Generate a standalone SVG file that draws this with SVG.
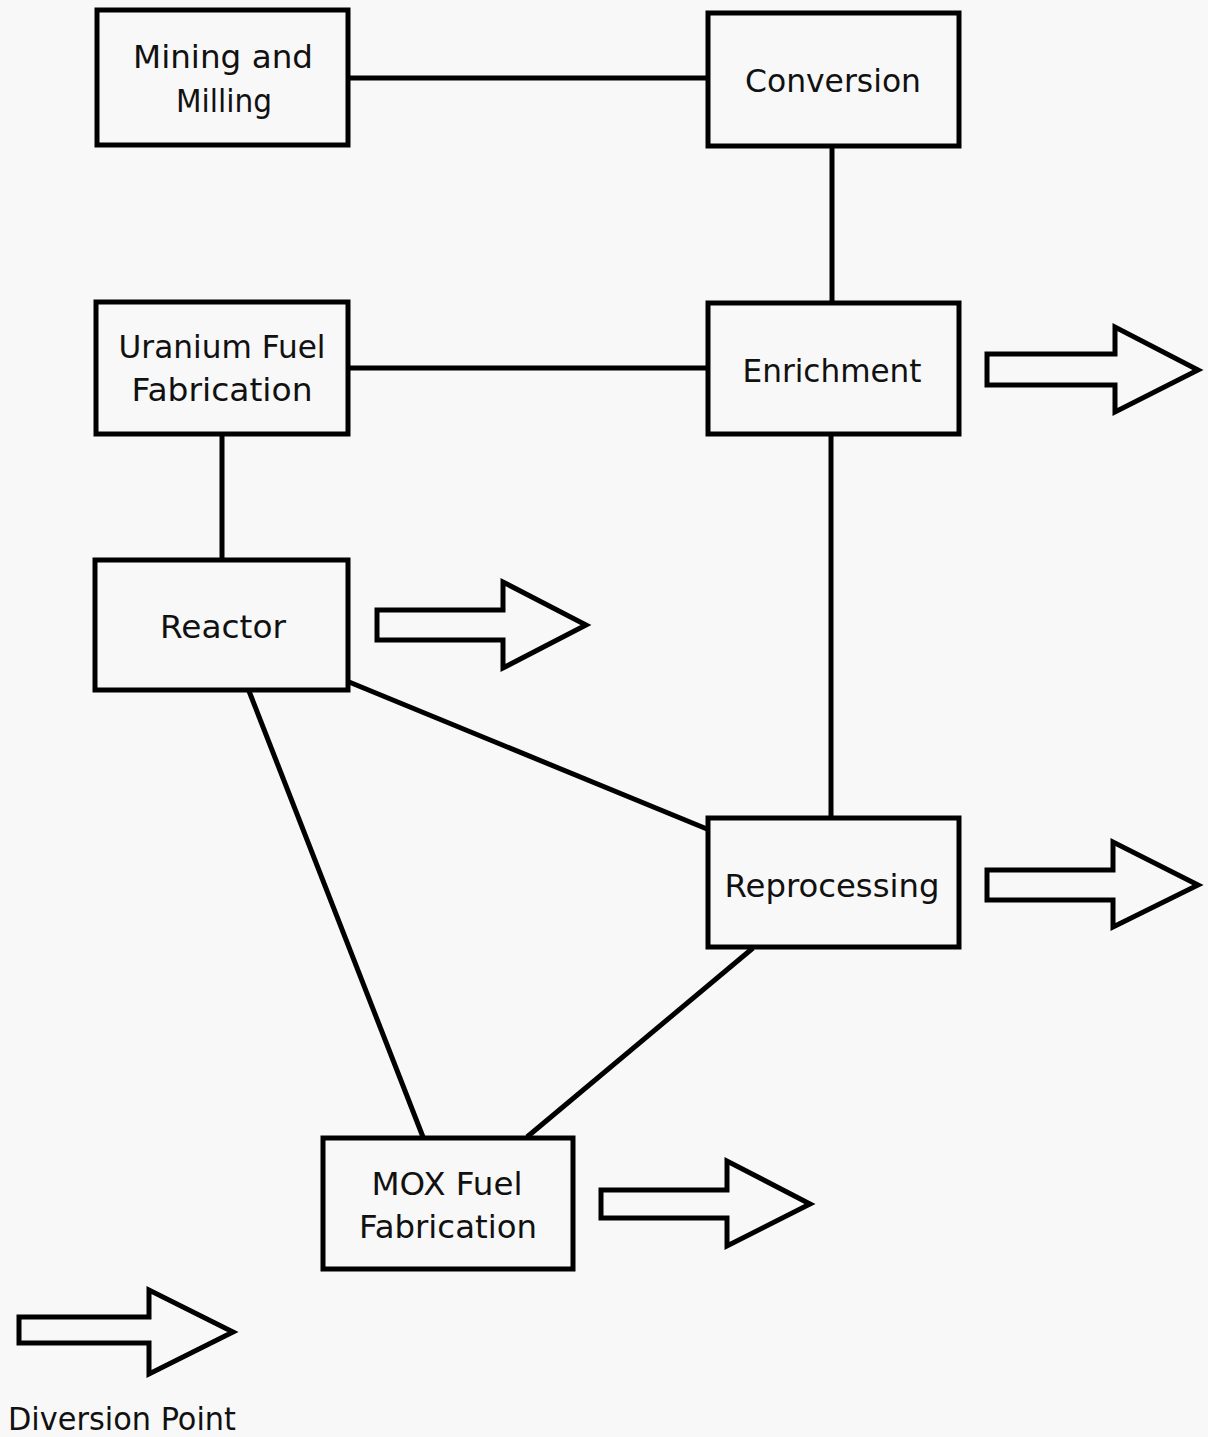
<svg xmlns="http://www.w3.org/2000/svg" width="1208" height="1437" viewBox="0 0 1208 1437">
<style>
.box{fill:none;stroke:#000;stroke-width:5}
.lbl{font-family:"DejaVu Sans","Liberation Sans",sans-serif;font-size:32px;fill:#111;text-anchor:middle}
.arr{fill:none;stroke:#000;stroke-width:5;stroke-linejoin:miter}
.con{stroke:#000;stroke-width:5;fill:none}
</style>
<rect width="1208" height="1437" fill="#f8f8f8"/>
<g id="connectors">
<line class="con" x1="350" y1="78" x2="707" y2="78"/>
<line class="con" x1="832" y1="147" x2="832" y2="302"/>
<line class="con" x1="349" y1="368" x2="707" y2="368"/>
<line class="con" x1="222" y1="435" x2="222" y2="559"/>
<line class="con" x1="831" y1="435" x2="831" y2="817"/>
<line class="con" x1="349" y1="682" x2="707" y2="829"/>
<line class="con" x1="249" y1="691" x2="423" y2="1137"/>
<line class="con" x1="753" y1="948" x2="527" y2="1137"/>
</g>
<g id="mining">
<rect class="box" x="97" y="10" width="251" height="135"/>
<text class="lbl" x="223" y="68" textLength="180" lengthAdjust="spacingAndGlyphs">Mining and</text>
<text class="lbl" x="224" y="112" textLength="96" lengthAdjust="spacingAndGlyphs">Milling</text>
</g>
<g id="conversion">
<rect class="box" x="708" y="13" width="251" height="133"/>
<text class="lbl" x="833" y="92" textLength="176" lengthAdjust="spacingAndGlyphs">Conversion</text>
</g>
<g id="uranium">
<rect class="box" x="96" y="302" width="252" height="132"/>
<text class="lbl" x="222" y="358" textLength="207" lengthAdjust="spacingAndGlyphs">Uranium Fuel</text>
<text class="lbl" x="222" y="401" textLength="181" lengthAdjust="spacingAndGlyphs">Fabrication</text>
</g>
<g id="enrichment">
<rect class="box" x="708" y="303" width="251" height="131"/>
<text class="lbl" x="832" y="382" textLength="179" lengthAdjust="spacingAndGlyphs">Enrichment</text>
</g>
<g id="reactor">
<rect class="box" x="95" y="560" width="253" height="130"/>
<text class="lbl" x="223" y="638" textLength="126" lengthAdjust="spacingAndGlyphs">Reactor</text>
</g>
<g id="reprocessing">
<rect class="box" x="708" y="818" width="251" height="129"/>
<text class="lbl" x="832" y="897" textLength="215" lengthAdjust="spacingAndGlyphs">Reprocessing</text>
</g>
<g id="mox">
<rect class="box" x="323" y="1138" width="250" height="131"/>
<text class="lbl" x="447" y="1195" textLength="151" lengthAdjust="spacingAndGlyphs">MOX Fuel</text>
<text class="lbl" x="448" y="1238" textLength="178" lengthAdjust="spacingAndGlyphs">Fabrication</text>
</g>
<g id="arrow-enrichment">
<polygon class="arr" points="987,354 1115,354 1115,327 1198,370 1115,412 1115,385 987,385"/>
</g>
<g id="arrow-reactor">
<polygon class="arr" points="377,610 503,610 503,582 586,625 503,668 503,640 377,640"/>
</g>
<g id="arrow-reprocessing">
<polygon class="arr" points="987,870 1113,870 1113,842 1198,885 1113,927 1113,900 987,900"/>
</g>
<g id="arrow-mox">
<polygon class="arr" points="601,1190 727,1190 727,1161 810,1204 727,1246 727,1218 601,1218"/>
</g>
<g id="legend">
<polygon class="arr" points="19,1317 149,1317 149,1290 233,1332 149,1374 149,1343 19,1343"/>
<text class="lbl" x="122" y="1430" textLength="228" lengthAdjust="spacingAndGlyphs">Diversion Point</text>
</g>
</svg>
